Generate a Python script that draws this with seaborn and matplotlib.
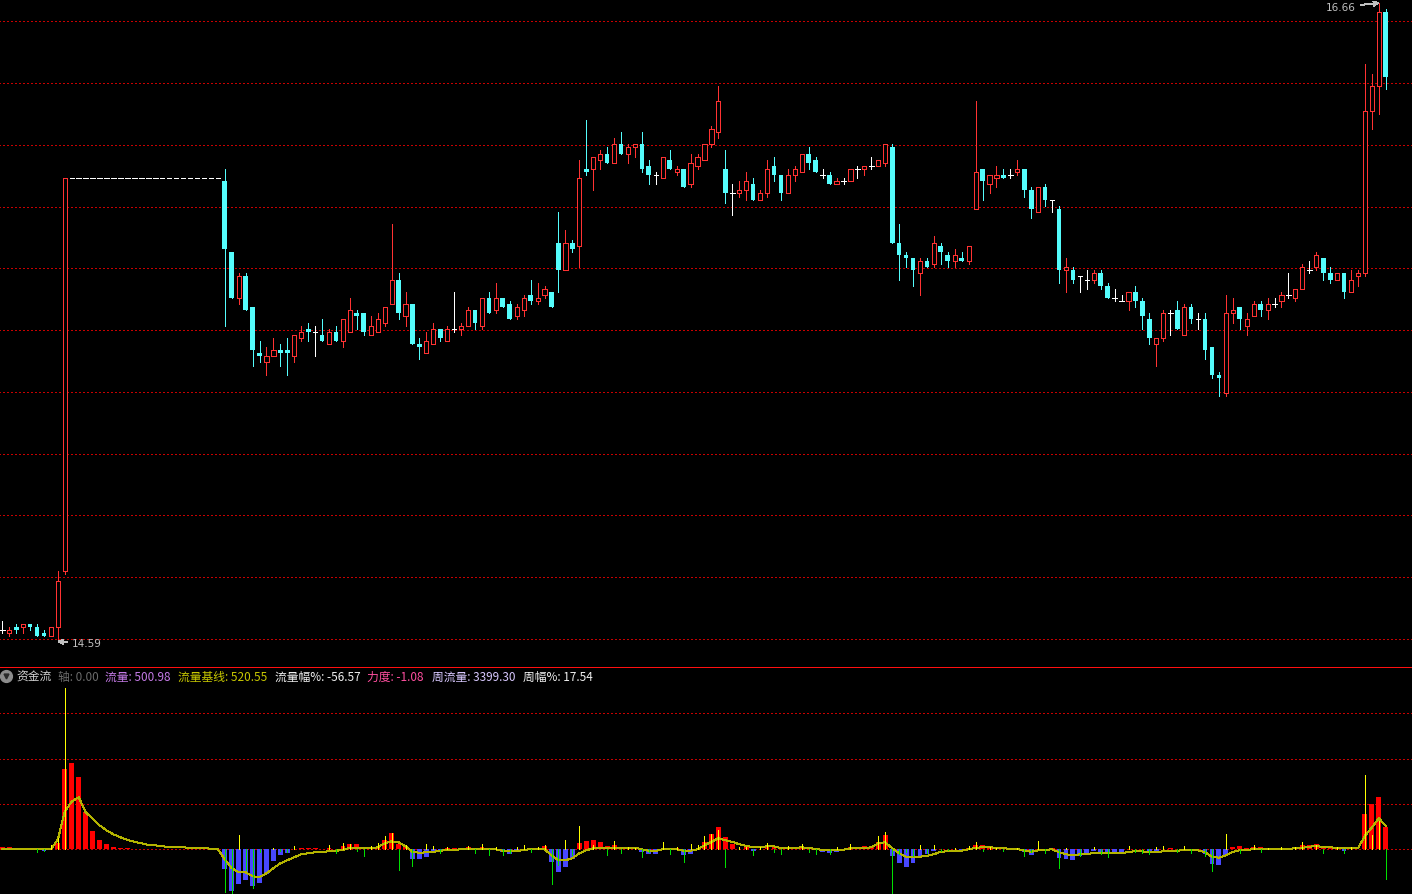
import numpy as np
import pandas as pd
import matplotlib
matplotlib.use("Agg")
import matplotlib.pyplot as plt
from matplotlib.lines import Line2D
import seaborn as sns

# ---- daily candles; the flat days 10..31 are the suspension ----
opens = [14.62, 14.61, 14.63, 14.63, 14.64, 14.63, 14.61, 14.60, 14.63, 14.81,
         16.09, 16.09, 16.09, 16.09, 16.09, 16.09, 16.09, 16.09, 16.09, 16.09,
         16.09, 16.09, 16.09, 16.09, 16.09, 16.09, 16.09, 16.09, 16.09, 16.09,
         16.09, 16.09, 16.08, 15.85, 15.70, 15.77, 15.67, 15.52, 15.49, 15.51,
         15.53, 15.53, 15.51, 15.57, 15.60, 15.59, 15.58, 15.55, 15.59, 15.56,
         15.59, 15.65, 15.65, 15.58, 15.59, 15.62, 15.68, 15.76, 15.64, 15.68,
         15.55, 15.52, 15.55, 15.60, 15.56, 15.60, 15.60, 15.61, 15.66, 15.61,
         15.70, 15.66, 15.70, 15.68, 15.64, 15.66, 15.71, 15.69, 15.71, 15.72,
         15.88, 15.79, 15.88, 15.87, 16.12, 16.12, 16.15, 16.17, 16.14, 16.20,
         16.17, 16.19, 16.20, 16.13, 16.10, 16.09, 16.15, 16.11, 16.12, 16.07,
         16.13, 16.15, 16.20, 16.24, 16.12, 16.04, 16.04, 16.05, 16.07, 16.02,
         16.04, 16.13, 16.10, 16.04, 16.10, 16.11, 16.17, 16.15, 16.10, 16.10,
         16.07, 16.08, 16.08, 16.12, 16.12, 16.13, 16.13, 16.14, 16.19, 15.88,
         15.84, 15.83, 15.78, 15.82, 15.81, 15.87, 15.84, 15.82, 15.83, 15.82,
         15.99, 16.12, 16.07, 16.09, 16.10, 16.10, 16.11, 16.12, 16.05, 15.98,
         16.06, 16.02, 15.99, 15.79, 15.79, 15.77, 15.76, 15.76, 15.78, 15.74,
         15.70, 15.69, 15.69, 15.72, 15.69, 15.63, 15.55, 15.57, 15.65, 15.66,
         15.58, 15.67, 15.63, 15.63, 15.54, 15.45, 15.39, 15.65, 15.67, 15.61,
         15.64, 15.68, 15.66, 15.68, 15.69, 15.71, 15.70, 15.73, 15.79, 15.80,
         15.83, 15.78, 15.76, 15.78, 15.72, 15.77, 15.78, 16.31, 16.39, 16.63]
highs = [14.65, 14.63, 14.64, 14.64, 14.64, 14.64, 14.62, 14.63, 14.81, 16.09,
         16.09, 16.09, 16.09, 16.09, 16.09, 16.09, 16.09, 16.09, 16.09, 16.09,
         16.09, 16.09, 16.09, 16.09, 16.09, 16.09, 16.09, 16.09, 16.09, 16.09,
         16.09, 16.09, 16.12, 15.85, 15.78, 15.78, 15.67, 15.56, 15.54, 15.57,
         15.55, 15.57, 15.58, 15.61, 15.62, 15.61, 15.63, 15.60, 15.61, 15.63,
         15.70, 15.66, 15.65, 15.64, 15.65, 15.67, 15.94, 15.78, 15.72, 15.68,
         15.57, 15.59, 15.62, 15.60, 15.61, 15.72, 15.62, 15.67, 15.66, 15.70,
         15.72, 15.75, 15.70, 15.69, 15.68, 15.71, 15.76, 15.75, 15.74, 15.72,
         15.98, 15.92, 15.89, 16.15, 16.28, 16.16, 16.18, 16.19, 16.22, 16.24,
         16.20, 16.20, 16.24, 16.15, 16.11, 16.16, 16.18, 16.13, 16.12, 16.17,
         16.17, 16.20, 16.26, 16.39, 16.18, 16.07, 16.08, 16.11, 16.09, 16.05,
         16.15, 16.16, 16.10, 16.12, 16.13, 16.17, 16.19, 16.16, 16.12, 16.11,
         16.09, 16.09, 16.12, 16.13, 16.13, 16.16, 16.15, 16.20, 16.20, 15.94,
         15.85, 15.83, 15.83, 15.83, 15.90, 15.88, 15.85, 15.86, 15.85, 15.87,
         16.34, 16.12, 16.10, 16.13, 16.12, 16.12, 16.15, 16.12, 16.06, 16.06,
         16.07, 16.02, 16.00, 15.83, 15.80, 15.77, 15.79, 15.79, 15.79, 15.75,
         15.73, 15.71, 15.72, 15.74, 15.70, 15.65, 15.57, 15.66, 15.66, 15.69,
         15.68, 15.68, 15.65, 15.65, 15.54, 15.46, 15.71, 15.70, 15.67, 15.65,
         15.69, 15.69, 15.70, 15.70, 15.72, 15.78, 15.73, 15.81, 15.82, 15.85,
         15.83, 15.80, 15.78, 15.78, 15.79, 15.79, 16.46, 16.43, 16.66, 16.64]
lows = [14.61, 14.60, 14.61, 14.61, 14.62, 14.60, 14.60, 14.60, 14.59, 14.80,
        16.09, 16.09, 16.09, 16.09, 16.09, 16.09, 16.09, 16.09, 16.09, 16.09,
        16.09, 16.09, 16.09, 16.09, 16.09, 16.09, 16.09, 16.09, 16.09, 16.09,
        16.09, 16.09, 15.61, 15.70, 15.68, 15.66, 15.48, 15.49, 15.45, 15.51,
        15.48, 15.45, 15.49, 15.56, 15.56, 15.51, 15.56, 15.55, 15.56, 15.54,
        15.59, 15.60, 15.58, 15.58, 15.59, 15.61, 15.68, 15.63, 15.61, 15.55,
        15.50, 15.52, 15.55, 15.56, 15.56, 15.59, 15.58, 15.61, 15.60, 15.60,
        15.65, 15.65, 15.67, 15.63, 15.63, 15.64, 15.68, 15.68, 15.70, 15.67,
        15.72, 15.79, 15.85, 15.80, 16.10, 16.05, 16.12, 16.14, 16.14, 16.17,
        16.14, 16.16, 16.11, 16.07, 16.07, 16.09, 16.12, 16.10, 16.06, 16.06,
        16.12, 16.15, 16.19, 16.22, 16.01, 15.97, 16.03, 16.02, 16.02, 16.02,
        16.03, 16.08, 16.02, 16.04, 16.08, 16.11, 16.12, 16.11, 16.09, 16.07,
        16.07, 16.07, 16.08, 16.09, 16.10, 16.12, 16.13, 16.13, 15.88, 15.76,
        15.80, 15.74, 15.71, 15.80, 15.80, 15.81, 15.80, 15.80, 15.82, 15.81,
        15.99, 16.02, 16.04, 16.06, 16.09, 16.09, 16.10, 16.03, 15.96, 15.98,
        16.00, 15.98, 15.75, 15.72, 15.75, 15.72, 15.73, 15.75, 15.73, 15.70,
        15.69, 15.69, 15.66, 15.67, 15.60, 15.55, 15.48, 15.56, 15.58, 15.60,
        15.58, 15.62, 15.60, 15.50, 15.44, 15.38, 15.38, 15.62, 15.60, 15.58,
        15.64, 15.64, 15.63, 15.67, 15.67, 15.70, 15.69, 15.73, 15.78, 15.79,
        15.76, 15.75, 15.76, 15.70, 15.72, 15.74, 15.77, 16.25, 16.30, 16.38]
closes = [14.62, 14.62, 14.62, 14.64, 14.63, 14.60, 14.60, 14.63, 14.78, 16.09,
          16.09, 16.09, 16.09, 16.09, 16.09, 16.09, 16.09, 16.09, 16.09, 16.09,
          16.09, 16.09, 16.09, 16.09, 16.09, 16.09, 16.09, 16.09, 16.09, 16.09,
          16.09, 16.09, 15.86, 15.70, 15.77, 15.66, 15.53, 15.51, 15.51, 15.53,
          15.52, 15.52, 15.58, 15.59, 15.59, 15.59, 15.56, 15.59, 15.56, 15.63,
          15.66, 15.64, 15.59, 15.61, 15.63, 15.67, 15.76, 15.65, 15.68, 15.55,
          15.54, 15.56, 15.60, 15.57, 15.60, 15.60, 15.61, 15.66, 15.62, 15.70,
          15.65, 15.70, 15.67, 15.63, 15.67, 15.70, 15.69, 15.70, 15.73, 15.67,
          15.79, 15.88, 15.86, 16.09, 16.11, 16.16, 16.17, 16.14, 16.20, 16.17,
          16.19, 16.20, 16.12, 16.10, 16.10, 16.16, 16.12, 16.12, 16.06, 16.14,
          16.16, 16.20, 16.25, 16.34, 16.04, 16.04, 16.05, 16.08, 16.02, 16.04,
          16.12, 16.10, 16.04, 16.10, 16.12, 16.17, 16.14, 16.11, 16.10, 16.07,
          16.08, 16.08, 16.12, 16.12, 16.13, 16.13, 16.15, 16.20, 15.88, 15.84,
          15.83, 15.79, 15.82, 15.80, 15.88, 15.85, 15.82, 15.84, 15.82, 15.87,
          16.11, 16.08, 16.10, 16.10, 16.09, 16.10, 16.12, 16.05, 15.99, 16.06,
          16.02, 16.02, 15.79, 15.80, 15.76, 15.77, 15.76, 15.78, 15.74, 15.70,
          15.70, 15.69, 15.72, 15.69, 15.64, 15.57, 15.57, 15.65, 15.65, 15.60,
          15.67, 15.63, 15.63, 15.53, 15.45, 15.44, 15.65, 15.66, 15.63, 15.63,
          15.68, 15.66, 15.68, 15.68, 15.71, 15.71, 15.73, 15.80, 15.79, 15.84,
          15.78, 15.76, 15.78, 15.72, 15.76, 15.78, 16.31, 16.39, 16.63, 16.42]

# ---- 资金流 indicator: bars (流量), daily spikes, baseline (流量基线) ----
flow = [44, 44, 22, 22, 22, -22, -33, 22, 132, 1782,
        1914, 1606, 814, 396, 198, 110, 44, 22, 22, 11,
        11, 11, 11, 11, 11, 11, 11, 11, 11, 11,
        11, 0, -440, -924, -770, -682, -814, -748, -550, -264,
        -132, -88, 0, 22, 22, 22, 0, 22, 0, 66,
        110, 110, 22, 0, 44, 198, 352, 110, 44, -220,
        -220, -176, -44, -22, 22, 22, 22, 44, 0, 44,
        0, 0, -66, -110, -66, 0, 22, 0, 66, -286,
        -506, -396, -220, 132, 176, 198, 154, 66, 99, 22,
        33, 33, -66, -110, -110, 0, 22, 22, -121, -110,
        0, 154, 330, 484, 264, 110, 0, 44, -44, 0,
        66, 44, 0, 0, 22, 44, 0, 0, -66, -77,
        -55, 0, 44, 44, 66, 44, 154, 308, -154, -308,
        -396, -308, -154, -110, -44, 0, 0, 0, -44, 22,
        88, 88, 66, 44, 22, 22, 0, -66, -132, 0,
        0, 22, -187, -220, -242, -143, -110, -44, -77, -110,
        -110, -88, 0, 0, 0, -88, -66, 0, 33, 0,
        0, -33, 0, -110, -319, -341, -143, 55, 77, 33,
        55, 55, 22, 22, 33, 22, 55, 99, 99, 121,
        66, 44, 55, -44, 0, 0, 770, 990, 1144, 500.98]
daily = [0, 0, 0, 0, 0, -55, -33, 88, 242, 3564,
         0, 0, 0, 0, 0, 0, 0, 0, 0, 0,
         0, 0, 0, 0, 0, 0, 0, 0, 0, 0,
         0, 0, -935, -968, 308, -462, -858, -55, 0, 22,
         -33, -55, 77, 0, 0, 0, 0, 99, -77, 132,
         110, -44, -143, 77, 132, 297, 352, -451, 99, -363,
         0, 110, 77, -77, 55, 0, 0, 66, -77, 110,
         -121, 44, -121, -88, 44, 88, -55, 44, 88, -770,
         -341, 198, -121, 506, 0, 88, 0, -121, 176, -77,
         44, 22, -165, -66, 0, 154, -110, 44, -286, 110,
         88, 286, 330, 418, -396, 0, 44, 44, -121, 44,
         132, -66, -110, 66, 0, 110, -66, -110, 0, -110,
         44, 0, 110, 0, 0, 0, 286, 374, -968, -110,
         -66, -154, 88, -77, 88, -44, -22, 33, 0, 66,
         154, -44, 55, 33, -44, 0, 22, -143, -66, 176,
         -77, 0, -407, 33, 0, -143, 0, 55, -110, -165,
         0, 0, 66, -55, -77, -110, 55, 66, 0, -55,
         66, -77, 0, -154, -484, 0, 330, 0, -77, 0,
         88, -66, 22, 0, 44, 0, 55, 154, 0, 88,
         -77, 0, 55, -77, 44, 0, 1650, 308, 616, -660]
baseline = [0, 0, 0, 0, 0, 0, 0, 0, 220, 836,
            1056, 1148, 814, 682, 528, 418, 330, 264, 209, 165,
            132, 99, 88, 66, 55, 44, 44, 33, 22, 22,
            15, 0, -220, -418, -506, -506, -594, -616, -528, -418,
            -308, -242, -176, -110, -88, -66, -55, -44, -33, -11,
            33, 33, 22, 22, 44, 132, 176, 154, 66, -55,
            -77, -66, -55, -33, -15, -11, 0, 0, 0, 0,
            0, 0, -33, -44, -44, -11, 0, 0, 0, -132,
            -242, -242, -198, -88, -22, 22, 33, 33, 33, 33,
            33, 33, 0, -33, -33, 0, 0, 0, -33, -33,
            0, 88, 165, 242, 198, 165, 110, 77, 44, 44,
            66, 66, 29, 29, 29, 44, 29, 7, -15, -15,
            -15, -7, 22, 22, 22, 44, 132, 154, 22, -88,
            -165, -176, -165, -143, -110, -55, -44, -33, -29, 0,
            33, 44, 44, 33, 22, 11, 11, -33, -55, -22,
            -11, 0, -66, -110, -132, -110, -110, -77, -77, -88,
            -88, -88, -55, -44, -44, -66, -66, -44, -33, -33,
            -11, -22, -22, -66, -165, -187, -132, -55, -22, -11,
            0, 0, 0, 0, 11, 11, 22, 33, 55, 73,
            51, 44, 33, 22, 22, 22, 297, 484, 682, 520.55]

# header readings
axis_value = 0.00
flow_pct = -56.57
force = -1.08
week_flow = 3399.30
week_pct = 17.54

W, H = 1412, 895
UP, DOWN, FLAT = "#ff3232", "#54fcfc", "#ffffff"
GRID = "#c80000"
EDGE = "#e00000"
LW = 0.72          # one pixel at 100 dpi
DOTS = (0, (1.5, 2.5))

sns.set_theme(style="dark", rc={"axes.facecolor": "black", "figure.facecolor": "black"})
plt.rcParams["font.family"] = ["Noto Sans CJK SC", "DejaVu Sans"]
plt.rcParams["lines.antialiased"] = False
plt.rcParams["patch.antialiased"] = False

o, h, l, c = (np.array(v, dtype=float) for v in (opens, highs, lows, closes))
idx = np.arange(len(o))
flat = np.isclose(o, c)
up = (c > o) & ~flat
dn = (c < o) & ~flat

fig = plt.figure(figsize=(W / 100, H / 100), dpi=100, facecolor="black")
aw = (W - 0.5) / W
ax = fig.add_axes([0, (H - 667) / H, aw, 667 / H])
ax2 = fig.add_axes([0, 0, aw, (H - 667.5) / H])
for a in (ax, ax2):
    a.set_facecolor("black")
    for s in a.spines.values():
        s.set_visible(False)
    a.spines["right"].set_visible(True)
    a.spines["right"].set_color(EDGE)
    a.spines["right"].set_linewidth(LW)
# separator between the two panels
ax2.spines["top"].set_visible(True)
ax2.spines["top"].set_color("#ff1010")
ax2.spines["top"].set_linewidth(LW)

# --- price panel ---
ax.hlines(np.linspace(14.59, 16.60, 11), -2, 205, colors=GRID, lw=LW,
          linestyles=DOTS, zorder=0)
wick_col = np.where(up, UP, np.where(dn, DOWN, FLAT))
ax.vlines(idx, l, h, colors=wick_col, lw=LW, zorder=2)
ax.bar(idx[up], c[up] - o[up], bottom=o[up], width=0.6, facecolor="black",
       edgecolor=UP, linewidth=LW, zorder=3)
ax.bar(idx[dn], o[dn] - c[dn], bottom=c[dn], width=0.68, color=DOWN,
       linewidth=0, zorder=3)
ax.hlines(o[flat], idx[flat] - 0.33, idx[flat] + 0.33, colors=FLAT, lw=LW, zorder=3)

i_lo, i_hi = int(np.argmin(l)), int(np.argmax(h))
ax.annotate(f"{l[i_lo]:.2f}", xy=(i_lo, l[i_lo] - 0.008), xytext=(14, -2),
            textcoords="offset pixels", color="#c0c0c0", fontsize=7.5,
            ha="left", va="center", family="DejaVu Sans",
            arrowprops=dict(arrowstyle="->", color="#c0c0c0", lw=LW,
                            shrinkA=1, shrinkB=0))
ax.annotate(f"{h[i_hi]:.2f}", xy=(i_hi, h[i_hi]), xytext=(-23, -4),
            textcoords="offset pixels", color="#c0c0c0", fontsize=7.5,
            ha="right", va="center", family="DejaVu Sans",
            arrowprops=dict(arrowstyle="->", color="#c0c0c0", lw=LW,
                            shrinkA=1, shrinkB=0))
ax.set_xlim(-0.33, 202.7)
ax.set_ylim(14.502, 16.673)
ax.set_xticks([])
ax.set_yticks([])

# --- 资金流 panel ---
ax2.hlines([0, 1000, 2000, 3000], -2, 205, colors=GRID, lw=LW,
           linestyles=DOTS, zorder=0)
fl = np.array(flow, dtype=float)
df = pd.DataFrame({"day": idx, "flow": fl, "side": np.where(fl >= 0, "in", "out")})
sns.barplot(data=df, x="day", y="flow", hue="side",
            palette={"in": "#ff0000", "out": "#4848ff"}, native_scale=True,
            width=0.7, errorbar=None, saturation=1, legend=False,
            linewidth=0, ax=ax2, zorder=2)
sns.lineplot(x=idx, y=baseline, color="#b4b400", linewidth=LW,
             errorbar=None, ax=ax2, zorder=3)
d = np.array(daily, dtype=float)
ax2.vlines(idx[d > 0], 0, d[d > 0], colors="#ffff00", lw=LW, zorder=4)
ax2.vlines(idx[d < 0], 0, d[d < 0], colors="#00e000", lw=LW, zorder=4)
ax2.set_xlim(-0.33, 202.7)
ax2.set_ylim(-987, 4036)
ax2.set(xlabel="", ylabel="", xticks=[], yticks=[])

# indicator header
ty = 1 - 677 / H
fig.add_artist(Line2D([6 / W], [ty], marker="o", markersize=8.5, color="#8c8c8c",
                      linestyle="none", transform=fig.transFigure))
fig.add_artist(Line2D([6 / W], [ty], marker="v", markersize=3.5, color="#2a2a2a",
                      linestyle="none", transform=fig.transFigure))
header = [
    (16, "资金流", "#d0d0d0"),
    (58, f"轴: {axis_value:.2f}", "#6a6a6a"),
    (105, f"流量: {flow[-1]:.2f}", "#c47ae6"),
    (178, f"流量基线: {baseline[-1]:.2f}", "#c8c800"),
    (275, f"流量幅%: {flow_pct:.2f}", "#f0f0f0"),
    (367, f"力度: {force:.2f}", "#ff4f9f"),
    (432, f"周流量: {week_flow:.2f}", "#d8c8ff"),
    (523, f"周幅%: {week_pct:.2f}", "#f0f0f0"),
]
for x, txt, colr in header:
    fig.text(x / W, ty, txt, color=colr, fontsize=8.5, ha="left", va="center")

fig.savefig("out.png", dpi=100, facecolor="black")
